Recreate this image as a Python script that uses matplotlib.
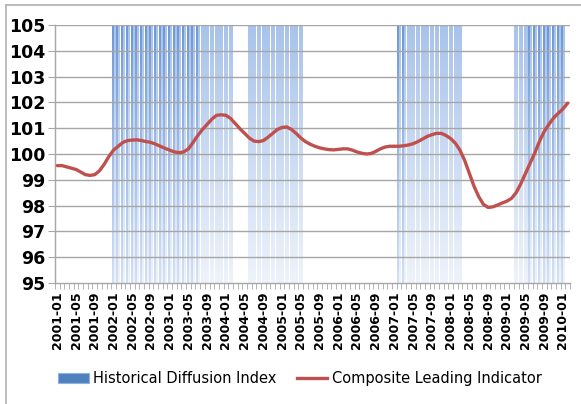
import numpy as np
import pandas as pd
import matplotlib
matplotlib.use('Agg')
import matplotlib.pyplot as plt
from matplotlib.colors import LinearSegmentedColormap
from matplotlib.patches import Patch
from matplotlib.lines import Line2D

# months on the category axis
months = pd.period_range('2001-01', '2010-02', freq='M').strftime('%Y-%m').tolist()

# composite leading indicator (monthly)
cli = [
    99.55, 99.55, 99.50, 99.45, 99.40, 99.30, 99.20, 99.17, 99.20, 99.35, 99.60, 99.90,
    100.15, 100.30, 100.45, 100.52, 100.54, 100.55, 100.52, 100.48, 100.45, 100.38, 100.30, 100.22,
    100.15, 100.08, 100.05, 100.08, 100.20, 100.45, 100.72, 100.95, 101.15, 101.35, 101.50, 101.52,
    101.50, 101.38, 101.18, 100.98, 100.80, 100.62, 100.50, 100.48, 100.52, 100.65, 100.80, 100.95,
    101.03, 101.05, 100.95, 100.80, 100.62, 100.48, 100.38, 100.30, 100.24, 100.20, 100.17, 100.16,
    100.18, 100.20, 100.20, 100.15, 100.08, 100.03, 100.00, 100.02, 100.10, 100.20, 100.27, 100.30,
    100.30, 100.30, 100.32, 100.35, 100.40, 100.48, 100.58, 100.68, 100.75, 100.80, 100.80, 100.72,
    100.60, 100.42, 100.15, 99.75, 99.25, 98.75, 98.35, 98.05, 97.93, 97.95, 98.02, 98.10,
    98.17, 98.28, 98.50, 98.85, 99.25, 99.65, 100.05, 100.50, 100.88, 101.15, 101.40, 101.58,
    101.75, 101.97,
]

# periods flagged by the historical diffusion index
diffusion_periods = [('2002-01', '2004-02'), ('2004-06', '2005-05'),
                     ('2007-02', '2008-03'), ('2009-03', '2010-01')]
# stretches drawn in a deeper blue
strong_periods = [('2002-01', '2003-07'), ('2007-02', '2007-03'), ('2009-06', '2010-01')]

ymin, ymax = 95, 105
red = '#c0504d'


def month_set(periods):
    out = set()
    for a, b in periods:
        out.update(range(months.index(a), months.index(b) + 1))
    return out


diff_idx = sorted(month_set(diffusion_periods))
strong_idx = month_set(strong_periods)

fig = plt.figure(figsize=(5.81, 4.04), dpi=100)
ax = fig.add_axes([55 / 581, 1 - 283 / 404, (570 - 55) / 581, (283 - 25) / 404])

# gradient bars, darker at the top
grad = np.linspace(0, 1, 64).reshape(-1, 1)
light = LinearSegmentedColormap.from_list('light', ['#eef3fb', '#a9c3ea'])
edge = LinearSegmentedColormap.from_list('edge', ['#d3e0f4', '#6f98d6'])
w = 0.74
for i in diff_idx:
    ax.imshow(grad, extent=(i - w / 2, i + w / 2, ymin, ymax), origin='lower',
              cmap=light, aspect='auto', zorder=1, interpolation='bilinear')
    if i in strong_idx:
        # thin deep-blue stripe on the left edge of the stronger months
        ax.imshow(grad, extent=(i - w / 2, i - w / 2 + 0.25, ymin, ymax), origin='lower',
                  cmap=edge, aspect='auto', zorder=1, interpolation='bilinear')

# grid
for v in range(ymin + 1, ymax + 1):
    ax.axhline(v, color='#a6a6a6', linewidth=1.0, zorder=2)

x = np.arange(len(months))
ax.plot(x, cli, color=red, linewidth=2.4, zorder=3, solid_capstyle='round')

ax.set_xlim(-0.5, len(months) - 0.5)
ax.set_ylim(ymin, ymax)

for s in ['top', 'right']:
    ax.spines[s].set_visible(False)
for s in ['left', 'bottom']:
    ax.spines[s].set_color('#a6a6a6')
    ax.spines[s].set_linewidth(1.0)
    ax.spines[s].set_zorder(2)

ax.set_yticks(range(ymin, ymax + 1))
ax.tick_params(axis='y', length=5, color='#a6a6a6', labelsize=12.5, pad=2)
for t in ax.get_yticklabels():
    t.set_fontweight('bold')

ax.set_xticks(x[::4])
ax.set_xticklabels(months[::4], rotation=90, fontsize=9, fontweight='bold')
ax.set_xticks(np.arange(-0.5, len(months), 1), minor=True)
ax.tick_params(axis='x', which='major', length=0, pad=6)
ax.tick_params(axis='x', which='minor', length=4, color='#a6a6a6')

handles = [Patch(facecolor='#4f81bd', edgecolor='#8db3e2', linewidth=0.8),
           Line2D([], [], color=red, linewidth=2.4)]
fig.legend(handles, ['Historical Diffusion Index', 'Composite Leading Indicator'],
           loc='center', bbox_to_anchor=(0.516, 0.062), ncol=2, frameon=False,
           fontsize=10.5, handlelength=2.1, handletextpad=0.3, columnspacing=1.4)

# outer frame (left and top only visible)
fig.add_artist(Line2D([6 / 581, 6 / 581], [0, 1 - 5 / 404], color='#b0b0b0', linewidth=1.2,
                      transform=fig.transFigure))
fig.add_artist(Line2D([6 / 581, 1], [1 - 5 / 404, 1 - 5 / 404], color='#b0b0b0', linewidth=1.2,
                      transform=fig.transFigure))

fig.savefig('out.png', dpi=100)
